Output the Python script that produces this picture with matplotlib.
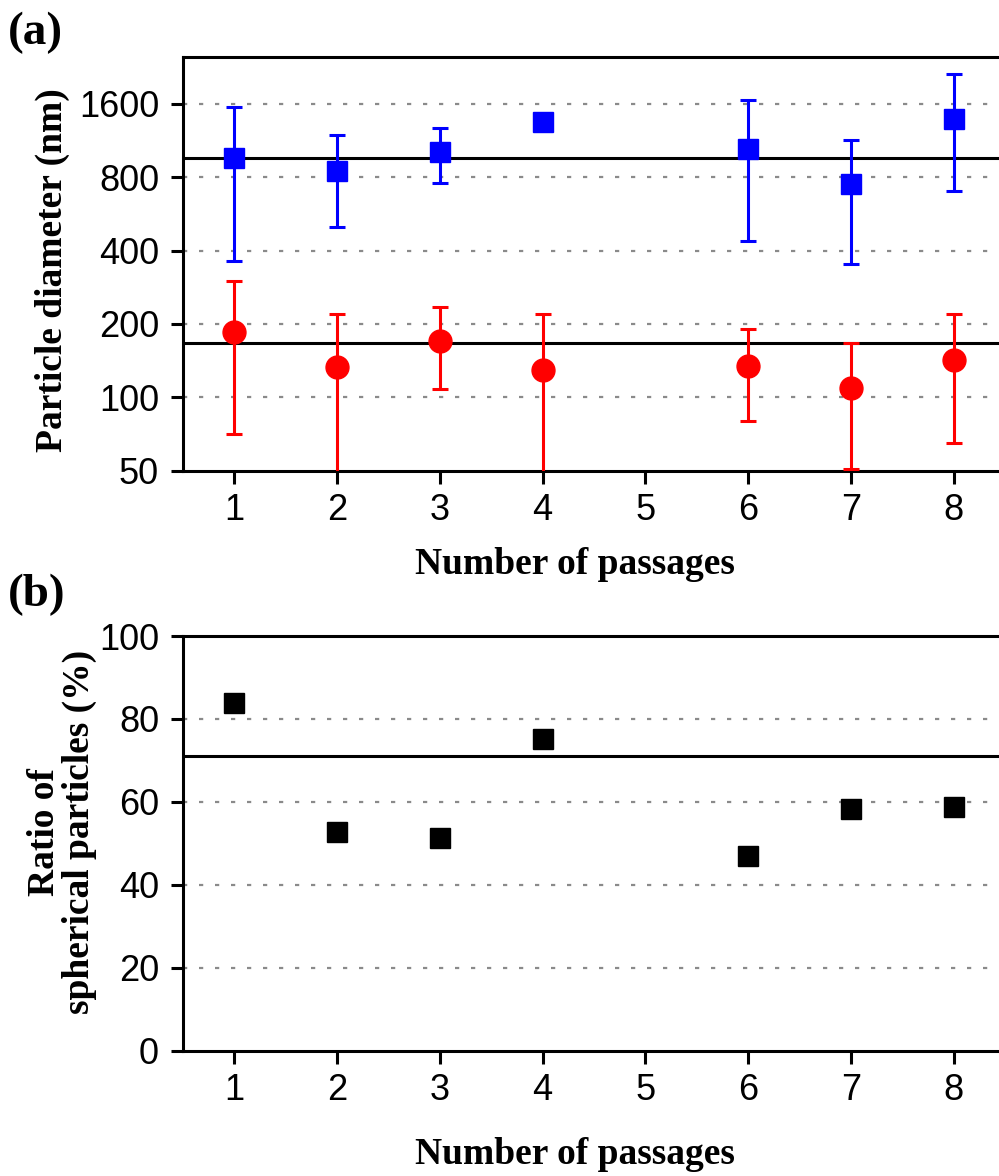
import matplotlib
matplotlib.use("Agg")
import matplotlib.pyplot as plt
from matplotlib.ticker import FixedLocator, FixedFormatter, NullLocator

plt.rcParams['font.family'] = ['Liberation Sans', 'DejaVu Sans']

# data
passages = [1, 2, 3, 4, 6, 7, 8]
xticks = [1, 2, 3, 4, 5, 6, 7, 8]

large_mean = [963, 851, 1019, 1347, 1046, 751, 1389]
large_low = [363, 498, 761, 1290, 439, 352, 704]
large_high = [1555, 1198, 1279, 1410, 1657, 1142, 2113]

small_mean = [186, 133, 171, 129, 135, 109, 142]
small_low = [71, 40, 108, 40, 80, 51, 65]
small_high = [299, 219, 234, 219, 191, 167, 219]

large_ref = 960
small_ref = 167

diam_ticks = [50, 100, 200, 400, 800, 1600]
diam_labels = ['50', '100', '200', '400', '800', '1600']

ratio = [83.9, 52.8, 51.4, 75.1, 46.9, 58.3, 58.8]
ratio_ref = 71
ratio_ticks = [0, 20, 40, 60, 80, 100]

W, H = 999, 1176
fig = plt.figure(figsize=(W / 100, H / 100), dpi=100)

serif = ['Liberation Serif', 'DejaVu Serif']
lw = 2.2
grid_kw = dict(color='#8a8a8a', lw=1.6, linestyle=(0, (1.9, 5.3)))


def px_axes(left, top, bottom):
    return fig.add_axes([left / W, 1 - bottom / H, 1 - left / W, (bottom - top) / H])


def style_axes(ax):
    ax.spines['right'].set_visible(False)
    for s in ('left', 'top', 'bottom'):
        ax.spines[s].set_linewidth(lw)
    ax.set_xlim(0.5, 8.44)
    ax.set_xticks(xticks)
    ax.tick_params(axis='both', direction='out', length=9, width=lw, labelsize=26)
    ax.tick_params(axis='x', pad=7)
    ax.tick_params(axis='y', pad=8)
    ax.tick_params(top=False, right=False)


# ---- (a) particle diameter ----
ax1 = px_axes(182.7, 56.7, 470.7)
ax1.set_yscale('log')
ax1.set_ylim(50, 2500)
for v in diam_ticks[1:]:
    ax1.axhline(v, zorder=0, **grid_kw)
ax1.axhline(large_ref, color='black', lw=lw, zorder=1)
ax1.axhline(small_ref, color='black', lw=lw, zorder=1)

ax1.errorbar(passages, large_mean,
             yerr=[[m - l for m, l in zip(large_mean, large_low)],
                   [h - m for m, h in zip(large_mean, large_high)]],
             fmt='s', color='blue', ms=14.5, elinewidth=lw, capsize=6, capthick=lw, zorder=3)
ax1.errorbar(passages, small_mean,
             yerr=[[m - l for m, l in zip(small_mean, small_low)],
                   [h - m for m, h in zip(small_mean, small_high)]],
             fmt='o', color='red', ms=16.5, elinewidth=lw, capsize=6, capthick=lw, zorder=3)

style_axes(ax1)
ax1.yaxis.set_major_locator(FixedLocator(diam_ticks))
ax1.yaxis.set_major_formatter(FixedFormatter(diam_labels))
ax1.yaxis.set_minor_locator(NullLocator())

# ---- (b) ratio of spherical particles ----
ax2 = px_axes(182.7, 636, 1050.7)
ax2.set_ylim(0, 100)
for v in ratio_ticks[1:-1]:
    ax2.axhline(v, zorder=0, **grid_kw)
ax2.axhline(ratio_ref, color='black', lw=lw, zorder=1)
ax2.plot(passages, ratio, 's', color='black', ms=15, zorder=3)
style_axes(ax2)
ax2.set_yticks(ratio_ticks)

# ---- labels ----
lab = dict(family=serif, fontweight='bold', fontsize=27)
fig.text(575 / W, 1 - 565 / H, 'Number of passages', ha='center', va='center', **lab)
fig.text(575 / W, 1 - 1155 / H, 'Number of passages', ha='center', va='center', **lab)
fig.text(52 / W, 1 - 270 / H, 'Particle diameter (nm)', rotation=90,
         ha='center', va='center', **lab)
fig.text(62 / W, 1 - 832 / H, 'Ratio of\nspherical particles (%)', rotation=90,
         ha='center', va='center', multialignment='center', linespacing=1.0, **lab)
fig.text(8 / W, 1 - 33 / H, '(a)', ha='left', va='center', family=serif,
         fontweight='bold', fontsize=34)
fig.text(8 / W, 1 - 595 / H, '(b)', ha='left', va='center', family=serif,
         fontweight='bold', fontsize=34)

fig.savefig('out.png', dpi=100)
